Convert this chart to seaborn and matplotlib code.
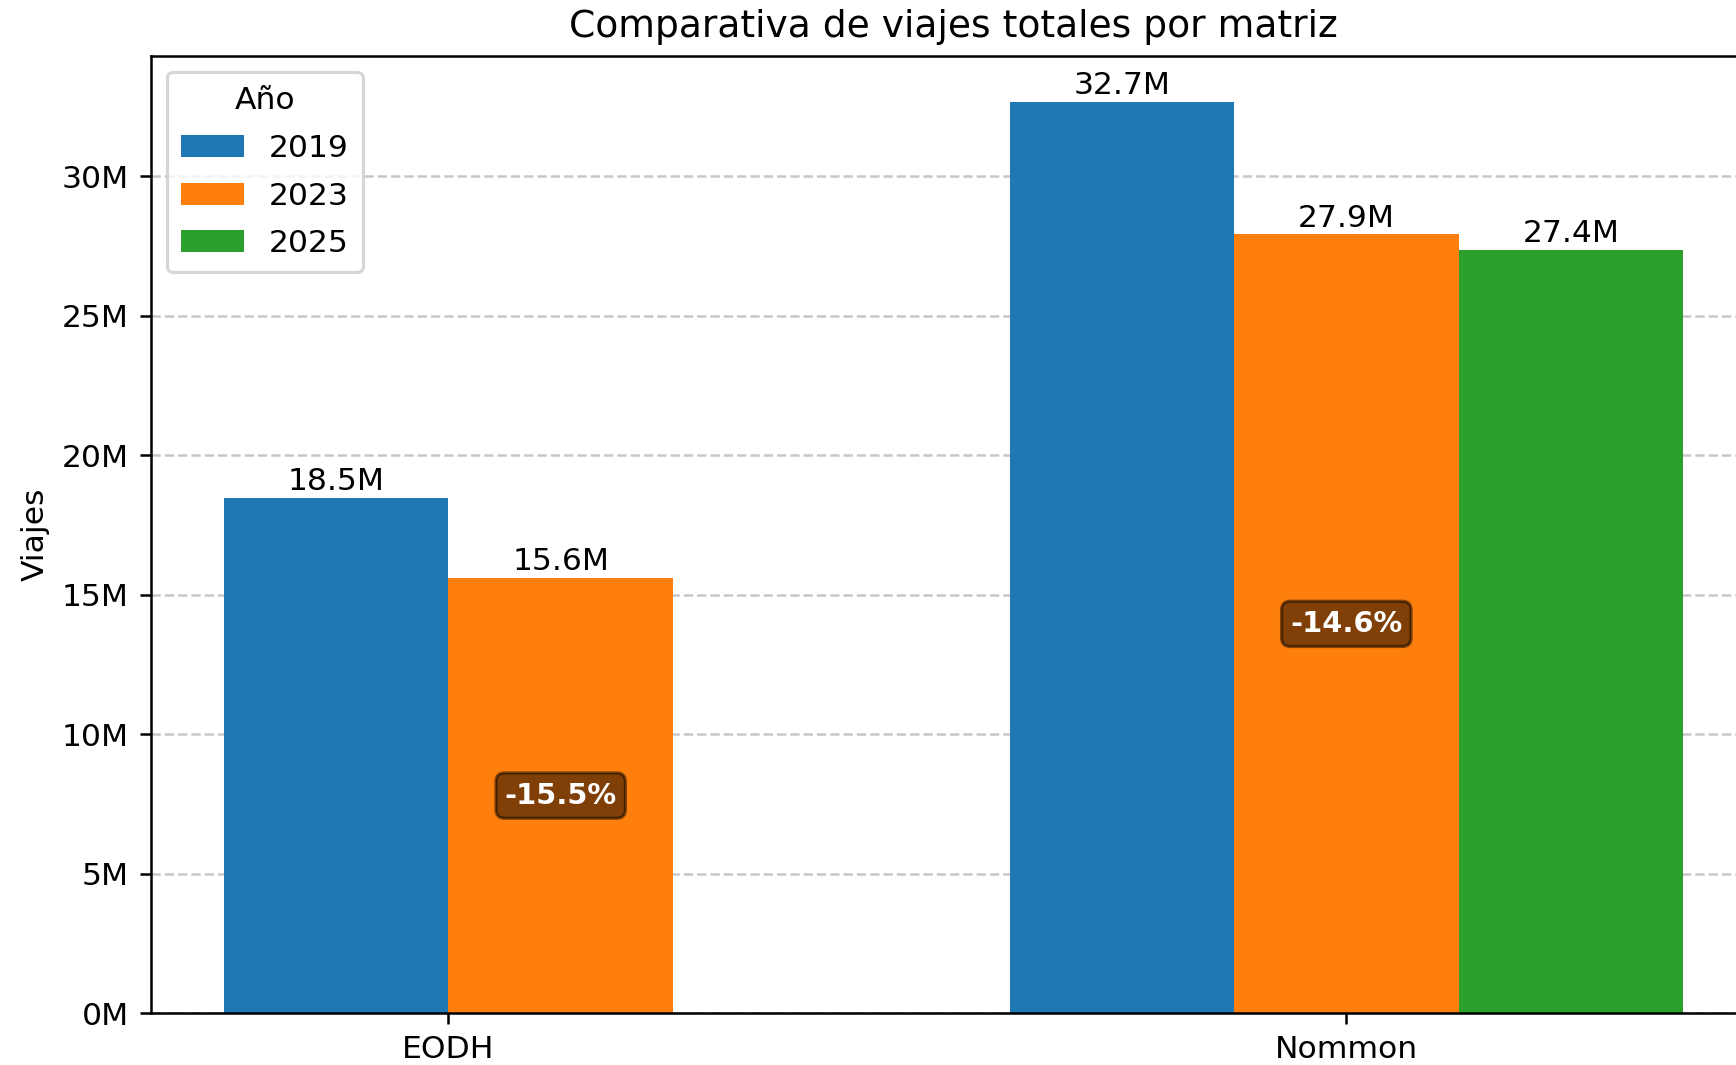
import matplotlib
matplotlib.use("Agg")
import matplotlib.pyplot as plt
import matplotlib.ticker as mticker
import pandas as pd
import seaborn as sns

# data
matrices = ["EODH", "Nommon"]
years = ["2019", "2023", "2025"]
eodh_trips = [18.47e6, 15.61e6]            # 2019, 2023
nommon_trips = [32.68e6, 27.92e6, 27.36e6]  # 2019, 2023, 2025

bar_w = 0.25
rows = []
for gi, vals in enumerate([eodh_trips, nommon_trips]):
    n = len(vals)
    for j, v in enumerate(vals):
        rows.append({"Matriz": matrices[gi],
                     "pos": gi + (j - (n - 1) / 2) * bar_w,
                     "Año": years[j],
                     "Viajes": v})
df = pd.DataFrame(rows)

DPI = 226
fig = plt.figure(figsize=(1736 / DPI, 1065 / DPI), dpi=DPI)
ax = fig.add_axes([0.0870, 0.0485, 0.9245, 0.8989])

palette = dict(zip(years, sns.color_palette("tab10", 3)))
sns.barplot(data=df, x="pos", y="Viajes", hue="Año", hue_order=years,
            palette=palette, native_scale=True, dodge=False, width=1,
            saturation=1, errorbar=None, ax=ax)

ax.set_axisbelow(True)
ax.yaxis.grid(True, linestyle="--", alpha=0.7)
ax.xaxis.grid(False)
ax.set_xticks(range(len(matrices)))
ax.set_xticklabels(matrices)
ax.yaxis.set_major_formatter(mticker.FuncFormatter(lambda v, p: f"{v/1e6:.0f}M"))
ax.set_xlabel("")
ax.set_ylabel("Viajes")
ax.set_title("Comparativa de viajes totales por matriz", fontsize=12)

# value labels on top of bars
for _, r in df.iterrows():
    ax.annotate(f"{r['Viajes']/1e6:.1f}M", (r["pos"], r["Viajes"]),
                xytext=(0, 0.5), textcoords="offset points",
                ha="center", va="bottom", fontsize=10)

# change 2019 -> 2023 label in the middle of the 2023 bar
for m in matrices:
    sub = df[df["Matriz"] == m].set_index("Año")
    v19, v23 = sub.loc["2019", "Viajes"], sub.loc["2023", "Viajes"]
    pct = (v23 - v19) / v19 * 100
    ax.text(sub.loc["2023", "pos"], v23 / 2, f"{pct:.1f}%",
            ha="center", va="center", color="white", fontweight="bold",
            fontsize=9.2,
            bbox=dict(boxstyle="round,pad=0.3", facecolor="black", alpha=0.5))

ax.legend(title="Año", loc="upper left", labelspacing=0.6, borderpad=0.45)

fig.savefig("out.png", dpi=DPI)
